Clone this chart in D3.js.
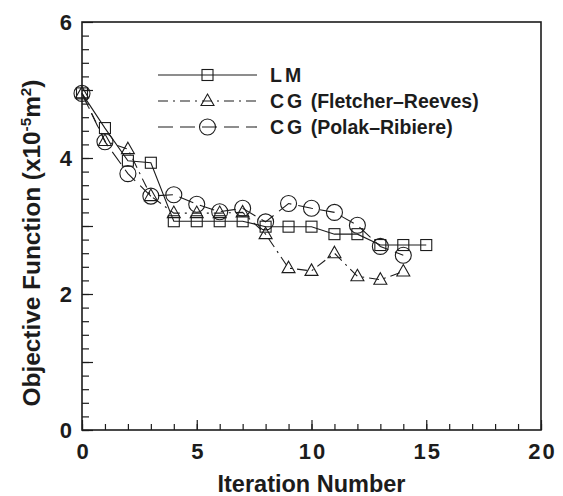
<!DOCTYPE html>
<meta charset="utf-8">
<style>
body { margin: 0; background: #fff; }
svg { font-family: "Liberation Sans", Arial, Helvetica, sans-serif; }
</style>
<svg width="563" height="496"></svg>
<script src="https://cdn.jsdelivr.net/npm/d3@7"></script>
<script>

// values
var lmIter = [0,1,2,3,4,5,6,7,8,9,10,11,12,13,14,15];
var lmValues = [4.95,4.44,3.96,3.93,3.07,3.07,3.07,3.07,2.99,2.99,2.99,2.88,2.88,2.72,2.72,2.72];
var cgIter = [0,1,2,3,4,5,6,7,8,9,10,11,12,13,14];
var frValues = [4.95,4.25,4.13,3.44,3.19,3.19,3.19,3.20,2.88,2.38,2.34,2.60,2.26,2.21,2.33];
var prValues = [4.95,4.24,3.77,3.44,3.46,3.32,3.21,3.26,3.06,3.33,3.26,3.20,3.01,2.70,2.57];
var seriesNames = ["LM", "CG (Fletcher\u2013Reeves)", "CG (Polak\u2013Ribiere)"];
var xTicks = [0,5,10,15,20];
var yTicks = [0,2,4,6];

var svg = d3.select("svg"),
    ink = "#1c1c1c";

var x = d3.scaleLinear().domain([0, 20]).range([82, 541]),
    y = d3.scaleLinear().domain([0, 6]).range([430, 22]);

var series = [
  {name: seriesNames[0], xs: lmIter, ys: lmValues, dash: null, marker: "square"},
  {name: seriesNames[1], xs: cgIter, ys: frValues, dash: "10,5,2,5", marker: "triangle"},
  {name: seriesNames[2], xs: cgIter, ys: prValues, dash: "15,7", marker: "circle"}
];

// axes (ticks point inwards)
function styleAxis(g) {
  g.select(".domain").remove();
  g.selectAll("line").attr("stroke", ink).attr("stroke-width", 1.2);
  g.selectAll("text").attr("fill", ink).attr("font-size", 22).attr("font-weight", "bold");
}

svg.append("g").attr("transform", "translate(0,430)")
    .call(d3.axisBottom(x).tickValues(d3.range(0, 21)).tickSize(-6).tickFormat(""))
    .call(styleAxis);
svg.append("g").attr("transform", "translate(0,430)")
    .call(d3.axisBottom(x).tickValues(xTicks).tickSize(-10).tickPadding(13).tickFormat(d3.format("d")))
    .call(styleAxis)
  .selectAll("text")
    .attr("letter-spacing", 2)
    .attr("dx", 1);

svg.append("g").attr("transform", "translate(82,0)")
    .call(d3.axisLeft(y).tickValues(d3.range(0, 30).map(function(i) { return i * 0.2; })).tickSize(-7).tickFormat(""))
    .call(styleAxis);
svg.append("g").attr("transform", "translate(82,0)")
    .call(d3.axisLeft(y).tickValues(d3.range(0, 7)).tickSize(-11).tickFormat(""))
    .call(styleAxis);
svg.append("g").attr("transform", "translate(82,0)")
    .call(d3.axisLeft(y).tickValues(yTicks).tickSize(0).tickPadding(10).tickFormat(d3.format("d")))
    .call(styleAxis);

svg.append("rect")
    .attr("x", x(0)).attr("y", y(6))
    .attr("width", x(20) - x(0)).attr("height", y(0) - y(6))
    .attr("fill", "none").attr("stroke", ink).attr("stroke-width", 1.6);

// titles
svg.append("text")
    .attr("x", (x(0) + x(20)) / 2 - 0).attr("y", 492)
    .attr("text-anchor", "middle")
    .attr("font-size", 24).attr("font-weight", "bold").attr("fill", ink)
    .attr("textLength", 188).attr("lengthAdjust", "spacingAndGlyphs")
    .text("Iteration Number");

var yt = svg.append("text")
    .attr("transform", "translate(40,243) rotate(-90)")
    .attr("text-anchor", "middle")
    .attr("font-size", 24).attr("font-weight", "bold").attr("fill", ink)
    .attr("textLength", 327).attr("lengthAdjust", "spacingAndGlyphs");
yt.append("tspan").text("Objective Function (x10");
yt.append("tspan").attr("dy", -9).attr("font-size", 15).text("-5");
yt.append("tspan").attr("dy", 9).text("m");
yt.append("tspan").attr("dy", -9).attr("font-size", 15).text("2");
yt.append("tspan").attr("dy", 9).text(")");

// markers
function drawMarker(g, kind, cx, cy) {
  if (kind === "square") {
    g.append("rect").attr("x", cx - 5.5).attr("y", cy - 5.5).attr("width", 11).attr("height", 11);
  } else if (kind === "triangle") {
    g.append("path").attr("d", "M" + cx + "," + (cy - 7) + "L" + (cx + 6.5) + "," + (cy + 4.5) + "L" + (cx - 6.5) + "," + (cy + 4.5) + "Z");
  } else {
    g.append("circle").attr("cx", cx).attr("cy", cy).attr("r", 8);
  }
}

var line = d3.line();

series.forEach(function(s) {
  var pts = s.xs.map(function(d, i) { return [x(d), y(s.ys[i])]; });
  var g = svg.append("g").attr("fill", "none").attr("stroke", ink).attr("stroke-width", 1.1);
  g.append("path").attr("d", line(pts)).attr("stroke-dasharray", s.dash);
  pts.forEach(function(p) { drawMarker(g, s.marker, p[0], p[1]); });
});

// legend
var legendRows = [75, 101, 127];
series.forEach(function(s, i) {
  var ly = legendRows[i];
  var g = svg.append("g").attr("fill", "none").attr("stroke", ink).attr("stroke-width", 1.1);
  g.append("line").attr("x1", 158).attr("x2", 257).attr("y1", ly).attr("y2", ly).attr("stroke-dasharray", s.dash);
  drawMarker(g, s.marker, 207.5, ly);
  var parts = s.name.split(" ");
  var t = svg.append("text").attr("x", 270).attr("y", ly + 7)
      .attr("font-size", 19.5).attr("font-weight", "bold").attr("fill", ink);
  t.append("tspan").attr("letter-spacing", 3).text(parts[0]);
  if (parts.length > 1) t.append("tspan").text(" " + parts.slice(1).join(" "));
});

</script>
